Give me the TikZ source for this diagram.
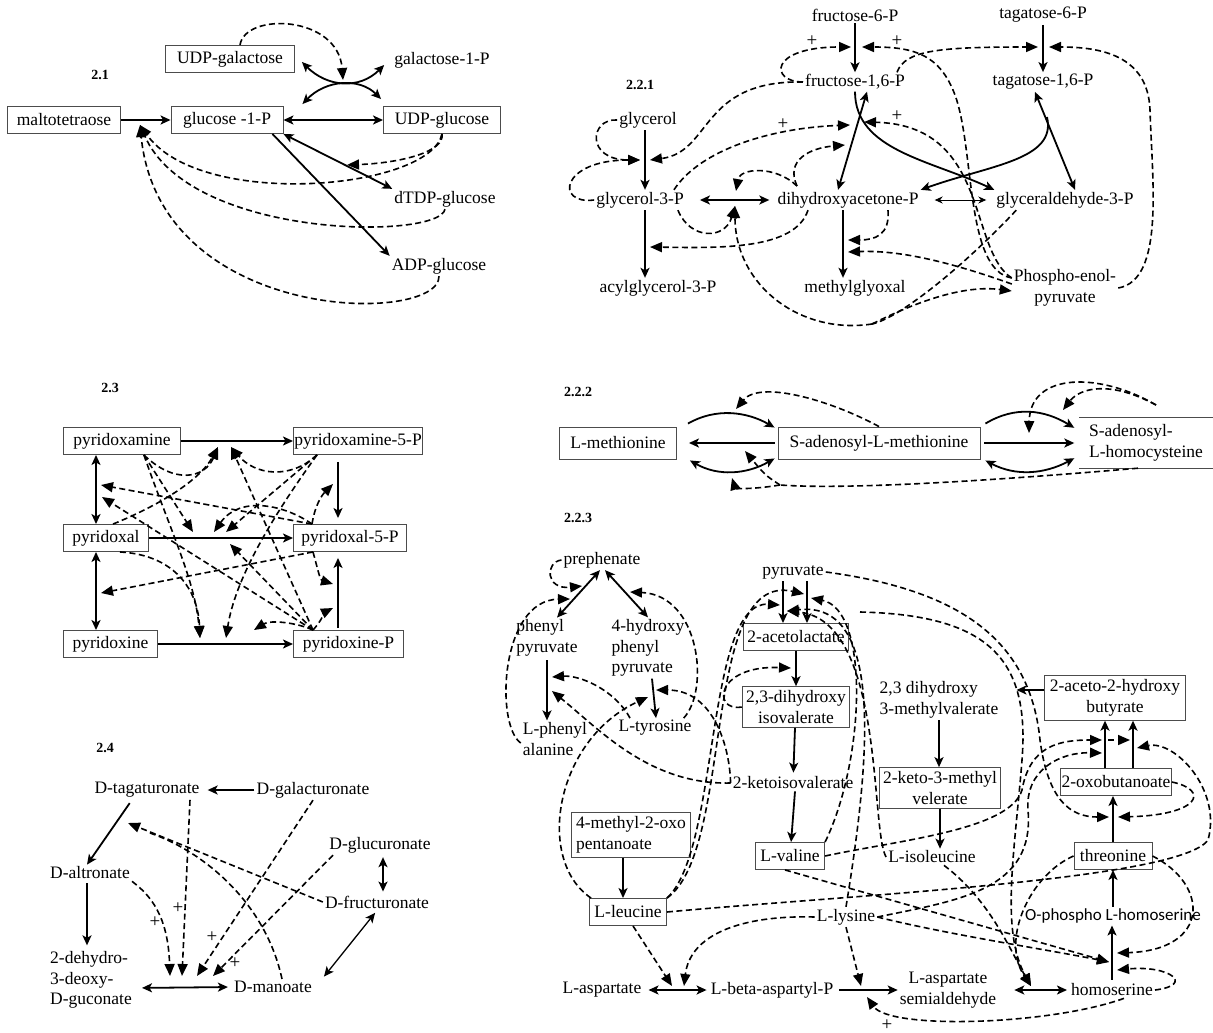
\documentclass[tikz,border=0pt]{standalone}
\usepackage{fontspec}
\setmainfont{Liberation Serif}
\newfontfamily\calfont{Carlito}
\usetikzlibrary{arrows.meta}

\tikzset{
  met/.style={font=\fontsize{17.5}{20.5}\selectfont,inner sep=2pt},
  metbox/.style={met,draw=black!70,line width=0.9pt,inner xsep=8pt,inner ysep=4pt,minimum height=27pt},
  seclbl/.style={font=\fontsize{14}{16}\selectfont\bfseries},
  pluslbl/.style={font=\fontsize{19}{19}\selectfont,inner sep=0pt},
  rxn/.style={line width=1.8pt,-{Stealth[length=10pt,width=9pt,inset=2.5pt]}},
  rxnb/.style={line width=1.8pt,{Stealth[length=10pt,width=9pt,inset=2.5pt]}-{Stealth[length=10pt,width=9pt,inset=2.5pt]}},
  reg/.style={line width=1.6pt,dash pattern=on 6pt off 3.5pt,-{Triangle[length=12pt,width=10pt]}},
  regl/.style={line width=1.6pt,dash pattern=on 6pt off 3.5pt},
}

\begin{document}
\begin{tikzpicture}[x=1pt,y=-1pt]
\useasboundingbox (0,0) rectangle (1213,1033);

% ---- 2.1 ----
\node[seclbl] (l21) at (100,75) {2.1};
\node[metbox,minimum width=113pt] (malto) at (64,120) {maltotetraose};
\node[metbox,minimum width=112pt] (g1p) at (227,120) {glucose -1-P};
\node[metbox,minimum width=117pt] (udpglc) at (442,120) {UDP-glucose};
\node[metbox,minimum width=129pt] (udpgal) at (230,59) {UDP-galactose};
\node[met] (gal1p) at (442,60) {galactose-1-P};
\node[met] (dtdp) at (445,199) {dTDP-glucose};
\node[met] (adpglc) at (439,266) {ADP-glucose};
\coordinate (m4) at (140,125);
\coordinate (x1) at (343,80);
\coordinate (ug) at (347,165);
\draw[rxn] (malto) -- (g1p);
\draw[rxnb] (g1p) -- (udpglc);
\draw[rxnb] (g1p.south east) -- (dtdp.north west);
\draw[rxn] ([xshift=-11pt]g1p.south east) -- (adpglc.north west);
\draw[rxnb] ([xshift=7pt,yshift=-3pt]udpgal.east) .. controls +(25,25) and +(-25,25) .. ([xshift=-8pt,yshift=-5pt]gal1p.west);
\draw[rxnb] ([xshift=19pt,yshift=2pt]g1p.north east) .. controls +(23,-24) and +(-22,-22) .. ([xshift=-2pt,yshift=7pt]udpglc.north west);
\draw[reg] ([xshift=10pt]udpgal.north) .. controls (245,12) and (338,15) .. (x1);
\draw[reg] (udpglc.south) .. controls (445,152) and (400,163) .. (ug);
\draw[reg] (udpglc.south) .. controls (430,190) and (200,210) .. (m4);
\draw[reg] (dtdp.south) .. controls (440,240) and (190,240) .. (m4);
\draw[reg] (adpglc.south) .. controls (440,325) and (160,325) .. (m4);

% ---- 2.2.1 ----
\node[seclbl] (l221) at (640,85) {2.2.1};
\node[met] (f6p) at (855,15) {fructose-6-P};
\node[met] (t6p) at (1043,15) {tagatose-6-P};
\node[met] (f16p) at (855,82) {fructose-1,6-P};
\node[met] (t16p) at (1043,82) {tagatose-1,6-P};
\node[met] (glyc) at (648,120) {glycerol};
\node[met] (g3p) at (640,200) {glycerol-3-P};
\node[met] (dhap) at (848,200) {dihydroxyacetone-P};
\node[met] (ga3p) at (1065,200) {glyceraldehyde-3-P};
\node[met] (acyl) at (658,288) {acylglycerol-3-P};
\node[met] (mgo) at (855,288) {methylglyoxal};
\node[met,align=center] (pep) at (1065,288) {Phospho-enol-\\pyruvate};
\coordinate (fa) at (851,47);
\coordinate (fb) at (862,47);
\coordinate (ta) at (1038,47);
\coordinate (tb) at (1049,47);
\coordinate (fc) at (850,125);
\coordinate (fd) at (864,122);
\coordinate (fe) at (845,145);
\coordinate (gll) at (640,160);
\coordinate (glr) at (650,160);
\coordinate (gd) at (736,191);
\coordinate (gu) at (735,206);
\coordinate (ga) at (650,247);
\coordinate (ma) at (848,240);
\coordinate (mb) at (848,252);
\coordinate (tbr) at (1047,117);
\coordinate (gj) at (872,324);
\coordinate (dtl) at (797,186);
\draw[rxn] (f6p) -- (f16p);
\draw[rxn] (t6p) -- (t16p);
\draw[rxn] ([xshift=-3pt]glyc.south) -- ([xshift=5pt]g3p.north);
\draw[rxn] ([xshift=5pt]g3p.south) -- ([xshift=-13pt]acyl.north);
\draw[rxnb,shorten <=14pt,shorten >=6pt] (g3p) -- (dhap);
\draw[line width=1pt,{Stealth[length=8pt,width=7pt]}-{Stealth[length=8pt,width=7pt]},shorten <=14pt,shorten >=8pt] (dhap) -- (ga3p);
\draw[rxn] ([xshift=-5pt]dhap.south) -- ([xshift=-12pt]mgo.north);
\draw[rxnb] ([xshift=12pt]f16p.south) -- ([xshift=-10pt]dhap.north);
\draw[rxn] (f16p.south) .. controls (855,150) and (930,160) .. (ga3p.north west);
\draw[rxnb] ([xshift=-8pt]t16p.south) -- ([xshift=10pt]ga3p.north);
\draw[rxn] (tbr) .. controls (1057,160) and (990,165) .. (dhap.north east);
% regulation
\draw[reg] (f16p.west) .. controls (770,82) and (768,47) .. (fa);
\node[pluslbl] (p1) at (812,41) {+};
\draw[reg] (f16p.west) .. controls (700,80) and (712,152) .. (glr);
\draw[reg] ([yshift=10pt]pep.west) .. controls (965,270) and (975,150) .. (955,95) .. controls (940,55) and (915,47) .. (fb);
\node[pluslbl] (p2) at (897,41) {+};
\draw[reg] ([yshift=10pt]pep.west) .. controls (968,250) and (990,125) .. (fd);
\node[pluslbl] (p3) at (897,116) {+};
\draw[reg] ([xshift=-10pt]f16p.north east) .. controls (905,50) and (940,47) .. (ta);
\draw[reg] (pep.east) .. controls (1165,280) and (1152,180) .. (1150,110) .. controls (1148,55) and (1100,47) .. (tb);
\draw[reg] (glyc.west) .. controls (590,118) and (585,160) .. (gll);
\draw[reg] (g3p.west) .. controls (555,205) and (560,160) .. (gll);
\draw[reg] ([xshift=-12pt]g3p.north east) .. controls (700,150) and (770,128) .. (fc);
\node[pluslbl] (p4) at (783,124) {+};
\draw[reg] (dtl) .. controls (785,160) and (810,148) .. (fe);
\draw[reg] (dtl) .. controls (775,165) and (740,168) .. (gd);
\draw[reg] ([xshift=-8pt]g3p.south east) .. controls (690,240) and (725,240) .. (gu);
\draw[regl] ([xshift=22pt]ga3p.south west) .. controls (965,265) and (900,318) .. (gj);
\draw[reg] (gj) .. controls (800,335) and (735,285) .. (gu);
\draw[reg] (gj) .. controls (920,300) and (965,285) .. ([yshift=-3pt]pep.west);
\draw[reg] ([xshift=-40pt]dhap.south) .. controls (795,250) and (720,248) .. (ga);
\draw[reg] ([xshift=40pt]dhap.south) .. controls (890,235) and (875,240) .. (ma);
\draw[reg] ([yshift=4pt]pep.west) .. controls (950,262) and (900,250) .. (mb);

% ---- 2.3 ----
\node[seclbl] (l23) at (110,388) {2.3};
\node[metbox,anchor=west,minimum width=117pt] (pm) at (63,441) {pyridoxamine};
\node[metbox,anchor=west,minimum width=127pt,inner xsep=1pt] (pm5p) at (293,441) {pyridoxamine-5-P};
\node[metbox,anchor=west,minimum width=85pt] (pl) at (63,538) {pyridoxal};
\node[metbox,anchor=west,minimum width=110pt] (pl5p) at (293,538) {pyridoxal-5-P};
\node[metbox,anchor=west,minimum width=94pt] (pn) at (63,644) {pyridoxine};
\node[metbox,anchor=west,minimum width=110pt] (pnp) at (293,644) {pyridoxine-P};
\draw[rxn] (pm) -- (pm5p);
\draw[rxnb] ([xshift=33pt]pm.south west) -- ([xshift=33pt]pl.north west);
\draw[rxnb] ([xshift=33pt]pl.south west) -- ([xshift=33pt]pn.north west);
\draw[rxn] (pl) -- (pl5p);
\draw[rxn] (pn) -- (pnp);
\draw[rxn,shorten <=7pt,shorten >=6pt] ([xshift=45pt]pm5p.south west) -- ([xshift=45pt]pl5p.north west);
\draw[rxn,shorten <=2pt,shorten >=6pt] ([xshift=45pt]pnp.north west) -- ([xshift=45pt]pl5p.south west);
\coordinate (s1) at ([xshift=-37pt]pm.south east);
\coordinate (s2) at ([xshift=50pt]pl.north west);
\coordinate (s3) at ([xshift=57pt]pl.south west);
\coordinate (s4) at ([xshift=24pt]pm5p.south west);
\coordinate (s5) at ([xshift=19pt]pl5p.north west);
\coordinate (s6) at ([xshift=20pt]pl5p.south west);
\coordinate (s7) at ([xshift=20pt]pnp.north west);
\coordinate (a1) at (101,485);
\coordinate (a2) at (102,497);
\coordinate (a3) at (193,532);
\coordinate (a4) at (214,532);
\coordinate (a5) at (226,532);
\coordinate (a6) at (218,447);
\coordinate (a7) at (231,447);
\coordinate (a8) at (333,484);
\coordinate (a10) at (230,544);
\coordinate (a11) at (101,593);
\coordinate (a12) at (333,584);
\coordinate (a13) at (333,608);
\coordinate (a14) at (254,630);
\coordinate (a15) at (200,638);
\coordinate (a16) at (226,638);
\draw[reg] (s1) .. controls (175,485) and (205,478) .. (a6);
\draw[reg] (s1) -- (a3);
\draw[reg] (s1) .. controls (170,530) and (195,580) .. (a15);
\draw[reg] (s2) .. controls (160,505) and (200,480) .. (a6);
\draw[reg] (s3) .. controls (175,555) and (198,590) .. (a15);
\draw[reg] (s4) .. controls (290,480) and (255,475) .. (a7);
\draw[reg] (s4) -- (a5);
\draw[reg] (s4) .. controls (270,520) and (235,580) .. (a16);
\draw[reg] (s5) -- (a1);
\draw[reg] (s5) .. controls (315,505) and (322,495) .. (a8);
\draw[reg] (s5) .. controls (285,505) and (240,495) .. (a4);
\draw[reg] (s6) -- (a11);
\draw[reg] (s6) .. controls (318,570) and (320,580) .. (a12);
\draw[reg] (s7) -- (a2);
\draw[reg] (s7) -- (a10);
\draw[reg] (s7) -- (a7);
\draw[reg] (s7) .. controls (322,620) and (325,612) .. (a13);
\draw[reg] (s7) .. controls (295,622) and (270,620) .. (a14);

% ---- 2.2.2 ----
\node[seclbl] (l222) at (578,392) {2.2.2};
\node[metbox,minimum width=117pt,minimum height=32pt] (lmet) at (618,443) {L-methionine};
\node[metbox,minimum width=202pt,minimum height=32pt] (sam) at (879,443) {S-adenosyl-L-methionine};
\node[met,align=left,minimum width=133pt,minimum height=50pt] (sah) at (1146,443) {S-adenosyl-\\L-homocysteine};
\draw[black!70,line width=0.9pt] (sah.north west) -- (sah.north east) (sah.south west) -- (sah.south east);
\draw[rxn,shorten <=3pt,shorten >=12pt] (sam) -- (lmet);
\draw[rxn] ([xshift=11pt,yshift=3pt]lmet.north east) .. controls +(28,-16) and +(-28,-16) .. ([xshift=-3pt,yshift=-1pt]sam.north west);
\draw[rxnb] ([xshift=13pt,yshift=-1pt]lmet.south east) .. controls +(28,16) and +(-28,16) .. ([xshift=-3pt,yshift=1pt]sam.south west);
\draw[rxn,shorten <=4pt,shorten >=5pt] (sam) -- (sah);
\draw[rxn] ([xshift=5pt,yshift=3pt]sam.north east) .. controls +(30,-18) and +(-30,-18) .. ([xshift=-5pt,yshift=-10pt]sah.north west);
\draw[rxnb] ([xshift=5pt,yshift=-1pt]sam.south east) .. controls +(30,16) and +(-30,16) .. ([xshift=-5pt,yshift=10pt]sah.south west);
\coordinate (mt) at (736,409);
\coordinate (mb1) at (732,478);
\coordinate (ms) at (745,451);
\coordinate (st) at (1063,410);
\coordinate (sm) at (1029,433);
\coordinate (sv) at (1156,405);
\coordinate (sq) at (780,485);
\draw[reg] (sam.north) .. controls (830,400) and (760,380) .. (mt);
\draw[regl] ([xshift=-8pt]sah.south) .. controls (1000,480) and (850,490) .. (sq);
\draw[reg] (sq) .. controls (750,490) and (735,488) .. (mb1);
\draw[reg] (sq) .. controls (765,475) .. (ms);
\draw[reg] (sv) .. controls (1110,380) and (1080,388) .. (st);
\draw[reg] (sv) .. controls (1100,372) and (1030,372) .. (sm);

% ---- 2.4 ----
\node[seclbl] (l24) at (105,748) {2.4};
\node[met] (dtag) at (147,790) {D-tagaturonate};
\node[met] (dgal) at (313,790) {D-galacturonate};
\node[met] (dalt) at (90,873) {D-altronate};
\node[met] (dglu) at (380,845) {D-glucuronate};
\node[met] (dfru) at (377,902) {D-fructuronate};
\node[met,align=left] (ddg) at (91,980) {2-dehydro-\\3-deoxy-\\D-guconate};
\node[met] (dman) at (273,987) {D-manoate};
\coordinate (mx1) at (170,976);
\coordinate (mx2) at (182,976);
\coordinate (mx3) at (197,976);
\coordinate (mx4) at (213,976);
\coordinate (ta4) at (128,823);
\draw[rxn,shorten >=6pt] (dgal) -- (dtag);
\draw[rxn,shorten <=4pt] ([xshift=-15pt]dtag.south) -- ([xshift=-3pt]dalt.north);
\draw[rxn,shorten <=2pt,shorten >=4pt] ([xshift=-3pt]dalt.south) -- ([xshift=-3pt]dalt.south |- ddg.north);
\draw[rxnb,shorten <=8pt,shorten >=4pt] ([yshift=-8pt]ddg.east) -- (dman.west);
\draw[rxnb,shorten <=2pt,shorten >=2pt] ([xshift=3pt]dglu.south) -- ([xshift=6pt]dfru.north);
\draw[rxnb,line width=1.3pt,shorten <=3pt,shorten >=3pt] (dfru.south) -- ([xshift=8pt]dman.north east);
\draw[reg] (dalt.south east) .. controls (150,895) and (168,915) .. (mx1);
\draw[reg] ([xshift=43pt]dtag.south) -- (mx2);
\draw[reg] (dgal.south) -- (mx3);
\draw[reg] ([xshift=-47pt]dglu.south) -- (mx4);
\draw[reg] (dfru.west) -- (ta4);
\draw[regl] ([xshift=9pt]dman.north) .. controls (265,900) and (200,850) .. (150,833);
\node[pluslbl] (p5) at (155,922) {+};
\node[pluslbl] (p6) at (178,908) {+};
\node[pluslbl] (p7) at (212,937) {+};
\node[pluslbl] (p8) at (235,963) {+};

% ---- 2.2.3 ----
\node[seclbl] (l223) at (578,518) {2.2.3};
\node[met] (preph) at (602,560) {prephenate};
\node[met,align=left] (phpyr) at (547,638) {phenyl\\pyruvate};
\node[met,align=left] (hppyr) at (648,648) {4-hydroxy\\phenyl\\pyruvate};
\node[met,align=left] (lphe) at (555,739) {L-phenyl\\alanine};
\node[met] (ltyr) at (655,728) {L-tyrosine};
\node[met] (pyr) at (793,572) {pyruvate};
\node[metbox,inner xsep=4pt] (acl) at (796,637) {2-acetolactate};
\node[metbox,align=center,inner xsep=4pt] (dhiv) at (796,707) {2,3-dihydroxy\\isovalerate};
\node[met] (kiv) at (793,783) {2-ketoisovalerate};
\node[metbox,align=left,inner xsep=5pt] (mop) at (631,835) {4-methyl-2-oxo\\pentanoate};
\node[metbox,inner xsep=5pt] (leu) at (628,912) {L-leucine};
\node[metbox,inner xsep=5pt] (val) at (790,856) {L-valine};
\node[met,align=left] (dhmv) at (939,700) {2,3 dihydroxy\\3-methylvalerate};
\node[metbox,align=center,inner xsep=4pt] (kmv) at (940,788) {2-keto-3-methyl\\velerate};
\node[met] (ile) at (932,857) {L-isoleucine};
\node[metbox,align=center,inner xsep=5pt] (ahb) at (1115,698) {2-aceto-2-hydroxy\\butyrate};
\node[metbox,inner xsep=1pt] (oxb) at (1116,782) {2-oxobutanoate};
\node[metbox,inner xsep=6pt] (thr) at (1113,856) {threonine};
\node[met,font=\calfont\fontsize{17}{19}\selectfont] (ophs) at (1113,916) {O-phospho L-homoserine};
\node[met] (hser) at (1112,990) {homoserine};
\node[met,align=center] (asa) at (948,990) {L-aspartate\\semialdehyde};
\node[met] (bap) at (772,990) {L-beta-aspartyl-P};
\node[met] (asp) at (602,990) {L-aspartate};
\node[met] (lys) at (846,917) {L-lysine};
% main routes
\draw[rxnb] ([xshift=-2pt]preph.south) -- ([xshift=10pt]phpyr.north);
\draw[rxnb] ([xshift=3pt]preph.south) -- (hppyr.north);
\draw[rxn,shorten <=2pt] (phpyr.south) -- (phpyr.south |- lphe.north);
\draw[rxn] ([xshift=4pt]hppyr.south) -- ([xshift=1pt]ltyr.north);
\draw[rxn] ([xshift=-10pt]pyr.south) -- ([xshift=-13pt]acl.north);
\draw[rxn] ([xshift=14pt]pyr.south) -- ([xshift=11pt]acl.north);
\draw[rxn] (acl) -- (dhiv);
\draw[rxn,shorten >=2pt] ([xshift=-1pt]dhiv.south) -- (kiv);
\draw[rxn] ([xshift=2pt]kiv.south) -- (val);
\draw[rxn,shorten >=16pt] ([yshift=8pt]ahb.west) -- ([yshift=10pt]dhmv.east);
\draw[rxn] (dhmv) -- (dhmv |- kmv.north);
\draw[rxn] (kmv) -- (kmv |- ile.north);
\draw[rxn] ([xshift=-11pt]oxb.north) -- ([xshift=-10pt]ahb.south);
\draw[rxn] ([xshift=17pt]oxb.north) -- ([xshift=18pt]ahb.south);
\draw[rxn] (thr) -- (thr |- oxb.south);
\draw[rxn] (ophs) -- (ophs |- thr.south);
\draw[rxn,shorten <=2pt] (hser) -- (hser |- ophs.south);
\draw[rxn] ([xshift=-8pt]mop.south) -- ([xshift=-5pt]leu.north);
\draw[rxnb,shorten <=5pt,shorten >=2pt] (asp) -- (bap);
\draw[rxn,shorten <=4pt] (bap) -- (asa);
\draw[rxnb,shorten <=16pt,shorten >=2pt] (asa) -- (hser);
% regulation
\coordinate (pp1) at (582,586);
\coordinate (pp2) at (570,599);
\coordinate (pp3) at (630,592);
\coordinate (phl1) at (552,677);
\coordinate (phl2) at (552,691);
\coordinate (tyl1) at (648,697);
\coordinate (tyl2) at (656,690);
\coordinate (dh1) at (791,668);
\coordinate (pa) at (780,605);
\coordinate (pb) at (804,594);
\coordinate (pc) at (787,611);
\coordinate (pd) at (811,598);
\coordinate (pq) at (860,612);
\coordinate (ox1) at (1109,817);
\coordinate (ox2) at (1118,817);
\coordinate (ah1) at (1102,740);
\coordinate (ah1b) at (1108,740);
\coordinate (ah2) at (1130,740);
\coordinate (ah3) at (1102,753);
\coordinate (ah4) at (1137,748);
\coordinate (hs1) at (1109,962);
\coordinate (hs2) at (1117,953);
\coordinate (hs3) at (1117,970);
\coordinate (ab1) at (867,997);
\coordinate (ab2) at (861,986);
\coordinate (as1) at (672,986);
\coordinate (as2) at (684,986);
\coordinate (sh1) at (1031,986);
\draw[reg] (preph.west) .. controls (545,562) and (545,590) .. (pp1);
\draw[reg] ([yshift=-4pt]lphe.west) .. controls (495,725) and (500,600) .. (pp2);
\draw[reg] ([xshift=-10pt]ltyr.north east) .. controls (710,690) and (700,595) .. (pp3);
\draw[reg] ([xshift=-25pt]ltyr.north) .. controls (615,690) and (580,675) .. (phl1);
\draw[reg] (kiv.west) .. controls (650,785) and (600,730) .. (phl2);
\draw[reg] (kiv.west) .. controls (730,750) and (715,690) .. (tyl2);
\draw[reg] ([xshift=2pt]leu.north west) .. controls (535,860) and (555,740) .. (tyl1);
\draw[reg] (dhiv.west) .. controls (712,712) and (715,665) .. (dh1);
\draw[reg] (leu.north east) .. controls (720,850) and (705,600) .. (pa);
\draw[reg] (leu.north east) .. controls (735,850) and (700,570) .. (pb);
\draw[reg] (val.north east) .. controls (865,760) and (870,610) .. (pd);
\draw[reg] (lys.north) .. controls (870,760) and (885,600) .. (pc);
\draw[reg] (ile.west) .. controls (870,830) and (885,620) .. (pc);
\draw[reg] (pq) .. controls (990,615) and (1030,660) .. (1022,760) .. controls (1015,850) and (1000,930) .. (sh1);
\draw[reg] (pyr.east) .. controls (960,590) and (1030,640) .. (1040,740) .. controls (1048,800) and (1070,817) .. (ox1);
\draw[reg] (oxb.east) .. controls (1210,790) and (1200,815) .. (ox2);
\draw[reg] (val.east) .. controls (900,840) and (1010,830) .. (1022,790) .. controls (1030,745) and (1060,740) .. (ah1);
\draw[reg] (ah1b) -- (ah2);
\draw[reg] (lys.east) .. controls (960,900) and (1035,890) .. (1028,810) .. controls (1025,770) and (1060,752) .. (ah3);
\draw[reg] (leu.east) .. controls (850,895) and (1180,880) .. (1208,840) .. controls (1222,790) and (1175,740) .. (ah4);
\draw[reg] (thr.east) .. controls (1210,885) and (1210,950) .. (hs2);
\draw[reg] (hser.east) .. controls (1195,985) and (1170,965) .. (hs3);
\draw[reg] ([xshift=12pt]hser.south) .. controls (1050,1025) and (890,1030) .. (ab1);
\node[pluslbl] (p9) at (887,1025) {+};
\draw[reg] ([xshift=-5pt]val.south) -- (hs1);
\draw[reg] (lys.east) .. controls (950,935) and (1050,950) .. (hs1);
\draw[reg] (lys.west) .. controls (740,915) and (690,935) .. (as2);
\draw[reg] ([xshift=5pt]leu.south) -- (as1);
\draw[reg] (lys.south) -- (ab2);
\draw[reg] ([xshift=12pt]ile.south) .. controls (990,900) and (1010,950) .. (sh1);
\draw[reg] (thr.west) .. controls (1030,875) and (1000,940) .. (sh1);
\end{tikzpicture}
\end{document}
